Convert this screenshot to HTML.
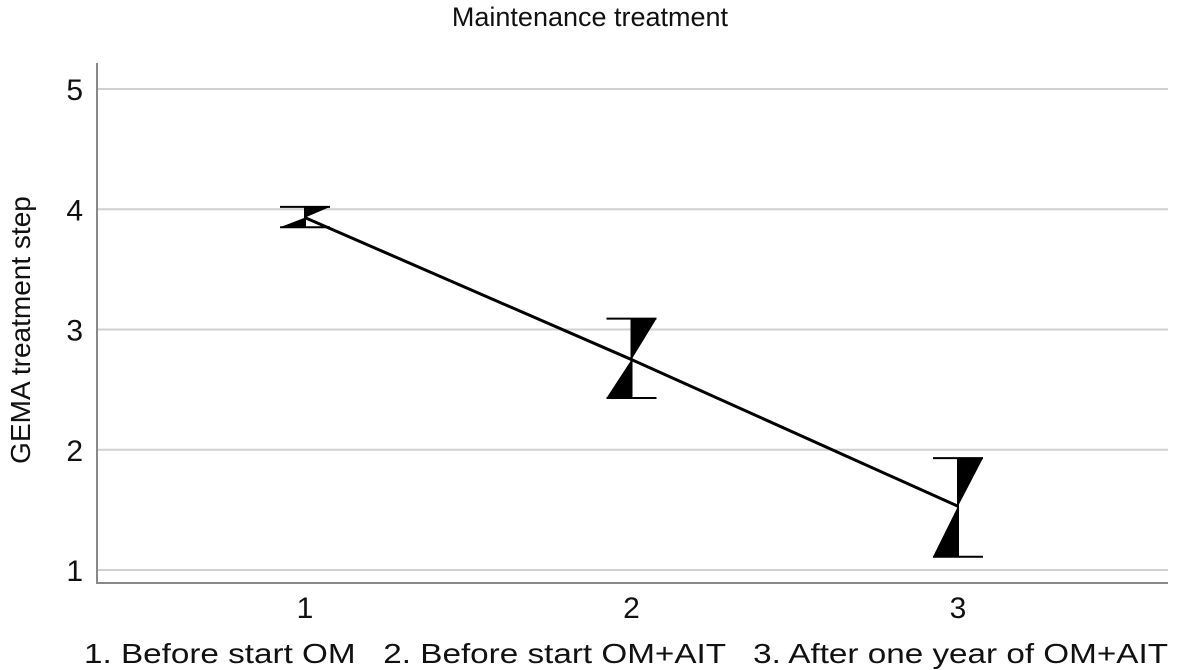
<!DOCTYPE html>
<html><head><meta charset="utf-8"><style>
body{margin:0;background:#fff;}
svg{display:block;font-family:"Liberation Sans",sans-serif;}
</style></head><body>
<svg id="chart" width="1180" height="670" viewBox="0 0 1180 670">
<text x="590" y="26" text-anchor="middle" font-size="27" fill="#111">Maintenance treatment</text>
<text transform="translate(30,330) rotate(-90)" text-anchor="middle" font-size="28" fill="#111">GEMA treatment step</text>
<text x="84" y="663" font-size="28" fill="#111" textLength="1084" lengthAdjust="spacingAndGlyphs" style="white-space:pre">1. Before start OM   2. Before start OM+AIT   3. After one year of OM+AIT</text>
<g id="grid"></g><g id="axes"></g><g id="marks"></g>
</svg>
<script>
const categories=[1,2,3];
const means=[3.93,2.75,1.53];
const upper=[4.02,3.09,1.93];
const lower=[3.85,2.43,1.11];
const yTicks=[1,2,3,4,5];
const NS="http://www.w3.org/2000/svg";
const x=c=>305+(c-1)*326.5;
const y=v=>570-(v-1)*120.25;
function mk(t,a,p){const e=document.createElementNS(NS,t);for(const k in a)e.setAttribute(k,a[k]);p.appendChild(e);return e;}
const grid=document.getElementById('grid'),axes=document.getElementById('axes'),marks=document.getElementById('marks');
yTicks.forEach(t=>{
 const g=mk('line',{x1:97,x2:1168,y1:y(t),y2:y(t),stroke:'#d0d0d0','stroke-width':2},grid);
 
 
 const tx=mk('text',{x:83,y:y(t)+11,'text-anchor':'end','font-size':30,fill:'#111'},axes);
 tx.textContent=t;
 
 
});
const ya=mk('line',{x1:97,x2:97,y1:63,y2:584,stroke:'#888','stroke-width':2},axes);


const xa=mk('line',{x1:96,x2:1168,y1:583,y2:583,stroke:'#888','stroke-width':2},axes);


categories.forEach(c=>{
 const tx=mk('text',{x:x(c),y:618,'text-anchor':'middle','font-size':30,fill:'#111'},axes);
 tx.textContent=c;
 
 
});
const line=mk('polyline',{points:categories.map((c,i)=>x(c)+','+y(means[i])).join(' '),fill:'none',stroke:'#000','stroke-width':3},marks);


categories.forEach((c,i)=>{
 const cx=x(c),t=y(upper[i]),b=y(lower[i]),m=y(means[i]),w=25;
 const g=mk('g',{},marks);
 
 
 mk('line',{x1:cx-w,x2:cx+w,y1:t,y2:t,stroke:'#000','stroke-width':2},g);
 mk('line',{x1:cx-w,x2:cx+w,y1:b,y2:b,stroke:'#000','stroke-width':2},g);
 mk('line',{x1:cx,x2:cx,y1:t,y2:b,stroke:'#000','stroke-width':2},g);
 mk('polygon',{points:`${cx},${t} ${cx+w},${t} ${cx},${m}`,fill:'#000'},g);
 mk('polygon',{points:`${cx},${b} ${cx-w},${b} ${cx},${m}`,fill:'#000'},g);
});
</script>
</body></html>
